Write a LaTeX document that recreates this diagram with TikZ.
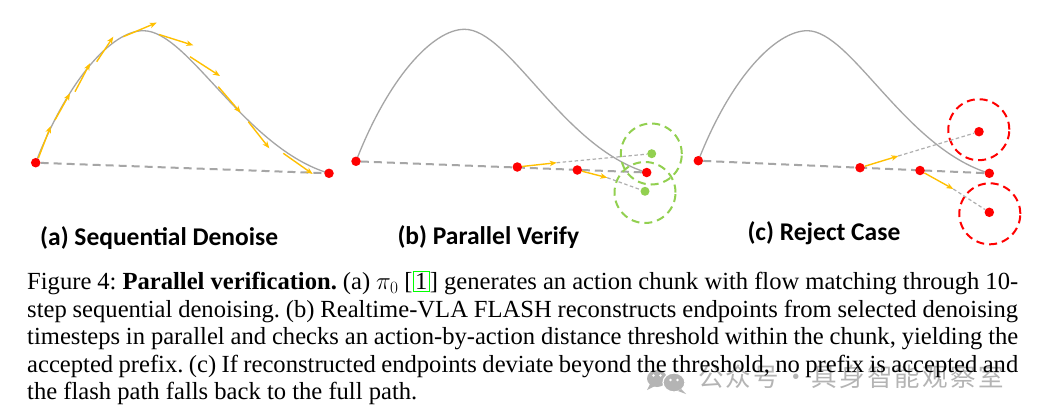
\documentclass[tikz,border=0pt]{standalone}
\usepackage{fontspec}
\setmainfont{Liberation Serif}
\newfontfamily\labelfont{Carlito}
\newfontfamily\cjkfont{Noto Sans CJK SC}
\usetikzlibrary{arrows.meta}
\definecolor{dotred}{RGB}{255,0,0}
\definecolor{arrowyellow}{RGB}{255,192,0}
\definecolor{curvegray}{RGB}{165,165,165}
\definecolor{dashgray}{RGB}{166,166,166}
\definecolor{thingray}{RGB}{175,175,175}
\definecolor{lightgreen}{RGB}{146,208,80}
\definecolor{linkgreen}{RGB}{0,255,0}
\definecolor{wmgray}{RGB}{180,180,180}
\pgfdeclarelayer{bg}
\pgfsetlayers{bg,main}
\newcommand{\refbox}[1]{{\setlength{\fboxsep}{1.5pt}\setlength{\fboxrule}{1pt}\fcolorbox{linkgreen}{white}{#1}}}
\newcommand{\wmc}[1]{\makebox[27.7pt][l]{#1}}
\begin{document}
\frenchspacing
\begin{tikzpicture}[x=1pt,y=-1pt,
  reddot/.style={circle,fill=dotred,inner sep=0pt,minimum size=9.5pt},
  greendot/.style={circle,fill=lightgreen,inner sep=0pt,minimum size=9pt},
  curveline/.style={draw=curvegray,line width=1.3pt},
  maindash/.style={draw=dashgray,line width=2pt,dash pattern=on 8pt off 5pt},
  thindash/.style={draw=thingray,line width=1.2pt,dash pattern=on 3.5pt off 2.5pt},
  vec/.style={draw=arrowyellow,line width=1.4pt,-{Stealth[length=7pt,width=5.5pt,inset=2pt]}},
  gring/.style={circle,draw=lightgreen,line width=2pt,dash pattern=on 8pt off 5pt,minimum size=61pt,inner sep=0pt},
  rring/.style={circle,draw=dotred,line width=2pt,dash pattern=on 8pt off 5pt,minimum size=61pt,inner sep=0pt},
  panellabel/.style={font=\labelfont\bfseries\fontsize{25.5}{28}\selectfont,anchor=base west,inner sep=0pt},
  capline/.style={font=\fontsize{24.6}{27}\selectfont,anchor=base west,inner sep=0pt},
  wmtext/.style={font=\cjkfont\fontsize{25.5}{26}\selectfont,text=wmgray,anchor=base west,inner sep=0pt},
]
\useasboundingbox (0,0) rectangle (1048,418);

% ---------- nodes (dots) ----------
% panel (a)
\node[reddot] (sa) at (35.7,162.7) {};
\node[reddot] (ea) at (329,173.3) {};
% panel (b)
\node[reddot] (sb) at (356,161.3) {};
\node[reddot] (eb) at (646.7,172.5) {};
\node[reddot] (rb1) at (517.3,167) {};
\node[reddot] (rb2) at (577.3,170) {};
\node[greendot] (gb1) at (651.7,153.7) {};
\node[greendot] (gb2) at (645,191.3) {};
\coordinate (tb1) at (556.7,162.7);
\coordinate (tb2) at (607.3,177.7);
% panel (c)
\node[reddot] (sc) at (698.3,160.7) {};
\node[reddot] (ec) at (989.3,173.3) {};
\node[reddot] (rc1) at (860,167.7) {};
\node[reddot] (rc2) at (920,170.5) {};
\node[reddot] (xc1) at (979,131.7) {};
\node[reddot] (xc2) at (989.3,212.3) {};
\coordinate (tc1) at (898.3,156);
\coordinate (tc2) at (953.3,189);

\begin{pgfonlayer}{bg}
  \fill[white] (0,0) rectangle (1048,418);
  % panel (a)
  \draw[curveline] (35.7,162.7) .. controls (68.1,79) and (112,30.7) .. (143.3,30.7)
        .. controls (188.3,30.7) and (244,147.8) .. (329,173.3);
  \draw[maindash] (sa) -- (ea);
  \foreach \ax/\ay/\bx/\by in {38.3/158.3/50.7/126, 55/120/70/93.3, 75/91.7/90/63.3,
      96.7/61.7/113.3/36.7, 123.3/36.7/156.7/22.7, 159/34.5/193.3/45.3,
      190/56.7/220/76, 218.3/86.7/240.7/112.7, 248.3/121.7/269.3/148.3,
      283.3/153.3/312.7/174}
    \draw[vec] (\ax,\ay) -- (\bx,\by);
  % panel (b)
  \draw[curveline] (356,161.3) .. controls (388.4,77.6) and (433,29.3) .. (464.5,29.3)
        .. controls (509.5,29.3) and (562,146.8) .. (646.7,172.5);
  \draw[maindash] (sb) -- (eb);
  \node[gring] (cb1) at (651.3,154) {};
  \node[gring] (cb2) at (645,192.5) {};
  \draw[thindash] (tb1) -- (gb1);
  \draw[thindash] (tb2) -- (gb2);
  \draw[vec] (rb1) -- (tb1);
  \draw[vec] (rb2) -- (tb2);
  % panel (c)
  \draw[curveline] (698.3,160.7) .. controls (731,77) and (776,30.7) .. (807.3,30.7)
        .. controls (851,30.7) and (905,147.8) .. (989.3,173.3);
  \draw[maindash] (sc) -- (ec);
  \node[rring] (cc1) at (978.8,129.7) {};
  \node[rring] (cc2) at (989.8,213.8) {};
  \draw[thindash] (tc1) -- (xc1);
  \draw[thindash] (tc2) -- (xc2);
  \draw[vec] (rc1) -- (tc1);
  \draw[vec] (rc2) -- (tc2);
  % watermark
  \fill[wmgray] (657,378.5) ellipse (10 and 8.5);
  \fill[wmgray] (650,384) -- (647,390) -- (655,386) -- cycle;
  \fill[white] (653.5,375.5) circle (1.4);
  \fill[white] (660.5,375.5) circle (1.4);
  \filldraw[fill=wmgray,draw=white,line width=1.2pt] (674,382.5) ellipse (11 and 9.5);
  \fill[wmgray] (681,389) -- (686,394) -- (678,391) -- cycle;
  \fill[white] (670.5,380) circle (1.4);
  \fill[white] (677.5,380) circle (1.4);
  \node[wmtext] (wm) at (698,386.5) {\wmc{公}\wmc{众}\wmc{号}\makebox[30.6pt][c]{·}\wmc{具}\wmc{身}\wmc{智}\wmc{能}\wmc{观}\wmc{察}\wmc{室}};
\end{pgfonlayer}

% ---------- panel labels ----------
\node[panellabel] (la) at (40,245.5) {(a) Sequential Denoise};
\node[panellabel] (lb) at (397.3,244.5) {(b) Parallel Verify};
\node[panellabel] (lc) at (747.3,240.7) {(c) Reject Case};

% ---------- caption ----------
\node[capline] (c1) at (27,289.5) {\makebox[991pt][s]{Figure 4: \textbf{Parallel verification.} (a) $\pi_0$ [\refbox{1}] generates an action chunk with flow matching through 10-}};
\node[capline] (c2) at (27,317) {\makebox[991pt][s]{step sequential denoising. (b) Realtime-VLA FLASH reconstructs endpoints from selected denoising}};
\node[capline] (c3) at (27,344.5) {\makebox[991pt][s]{timesteps in parallel and checks an action-by-action distance threshold within the chunk, yielding the}};
\node[capline] (c4) at (27,372) {\makebox[991pt][s]{accepted prefix. (c) If reconstructed endpoints deviate beyond the threshold, no prefix is accepted and}};
\node[capline] (c5) at (27,399.3) {the flash path falls back to the full path.};
\end{tikzpicture}
\end{document}
